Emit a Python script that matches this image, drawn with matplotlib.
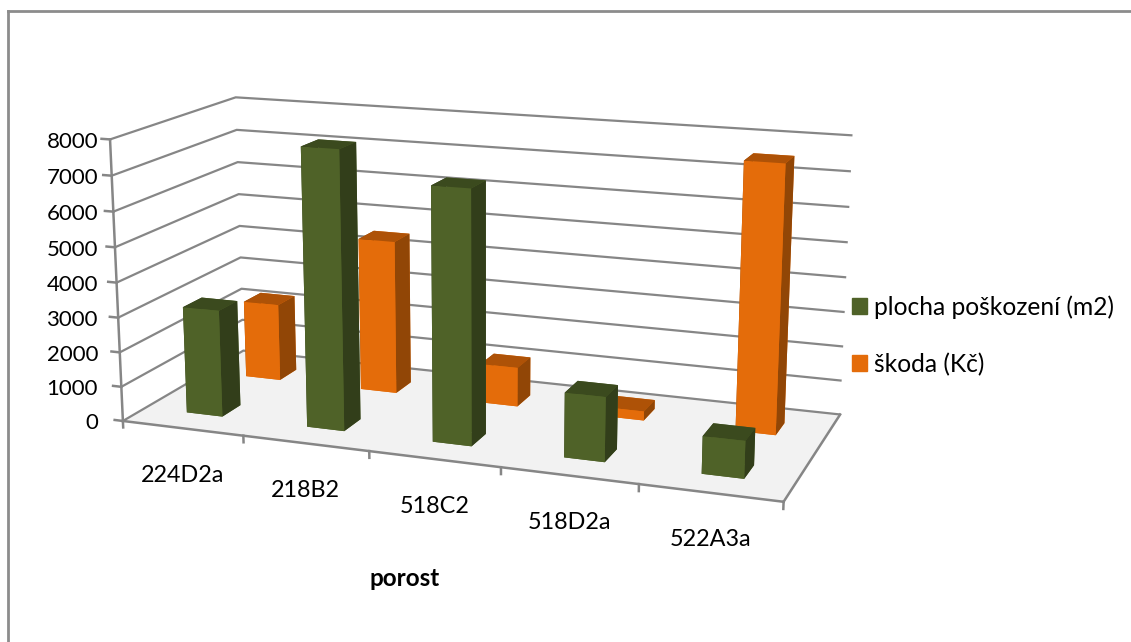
import matplotlib
matplotlib.use("Agg")
import matplotlib.pyplot as plt
from matplotlib.patches import Patch
from mpl_toolkits.mplot3d import proj3d

# stand data
stands = ["224D2a", "218B2", "518C2", "518D2a", "522A3a"]
area_m2 = [3090, 7900, 7100, 1800, 1030]
damage_czk = [2310, 4530, 1150, 265, 7580]
z_ticks = [0, 1000, 2000, 3000, 4000, 5000, 6000, 7000, 8000]
area_label = "plocha poškození (m2)"
damage_label = "škoda (Kč)"
x_label = "porost"

W, H = 1131, 642
GRAY = "#868686"
# bottom, top, front, back, left, right
GREEN_FACES = ["#4f6228", "#3b4a1e", "#4f6228", "#4f6228", "#323e1a", "#323e1a"]
ORANGE_FACES = ["#e46c0a", "#ae5207", "#e46c0a", "#e46c0a", "#914606", "#914606"]

plt.rcParams["font.family"] = ["Lato", "DejaVu Sans"]
plt.rcParams["font.size"] = 16
plt.rcParams["grid.color"] = GRAY
plt.rcParams["grid.linewidth"] = 1.6
plt.rcParams["axes.edgecolor"] = GRAY
plt.rcParams["axes.linewidth"] = 1.8

fig = plt.figure(figsize=(W / 100, H / 100), dpi=100)
ax = fig.add_subplot(projection="3d", computed_zorder=True)
ax.patch.set_alpha(0)
s = 762.17
ax.set_position([(472.8 - s / 2) / W, (H - 290.26 - s / 2) / H, s / W, s / H])
ax.view_init(elev=14.31, azim=-69.79, roll=0.03)
ax.set_proj_type("persp", focal_length=0.503)
ax.set_box_aspect((1, 0.3995, 0.4267))
ax.set_xlim(0, 5)
ax.set_ylim(0, 2)
ax.set_zlim(0, 8000)

ax.set_xticks(range(6))
ax.set_yticks([])
ax.set_zticks(z_ticks)
ax.set_xticklabels([])
ax.set_zticklabels([])
ax.xaxis.gridlines.set_visible(False)
ax.yaxis.gridlines.set_visible(False)
for axis in (ax.xaxis, ax.yaxis, ax.zaxis):
    axis.pane.set_edgecolor("none")
    axis._axinfo["tick"]["inward_factor"] = 0
    axis._axinfo["tick"]["outward_factor"] = 0
ax.xaxis.set_pane_color((1, 1, 1, 0))
ax.yaxis.set_pane_color((1, 1, 1, 0))
ax.zaxis.set_pane_color("#f2f2f2")
ax.zaxis.set_ticks_position("lower")

# depth slot 0 is the front row, slot 1 the back row
bar_w = 0.3
for i, (a, d) in enumerate(zip(area_m2, damage_czk)):
    ax.bar3d(i + 0.35, 0.35, 0, bar_w, bar_w, a, color=GREEN_FACES, shade=False, linewidth=0)
    ax.bar3d(i + 0.35, 1.35, 0, bar_w, bar_w, d, color=ORANGE_FACES, shade=False, linewidth=0)

# ticks
for i in range(6):
    ax.plot([i, i], [0, 0], [0, -190], color=GRAY, lw=1.8)
for v in z_ticks:
    ax.plot([0, -0.07], [0, 0], [v, v], color=GRAY, lw=1.8)

def screen(x, y, z):
    # data point -> display pixels of the 3d axes
    tx, ty, _ = proj3d.proj_transform(x, y, z, ax.get_proj())
    return ax.transData.transform((tx, ty))

for i, name in enumerate(stands):
    sx, sy = screen(i + 0.5, 0, 0)
    fig.text(sx / W, (sy - 47) / H, name, ha="center", va="center", fontsize=16.8)

for v in z_ticks:
    sx, sy = screen(0, 0, v)
    fig.text(98 / W, (sy - 2.5) / H, str(v), ha="right", va="center")

fig.text(405 / W, 1 - 579 / H, x_label, ha="center", va="center", fontweight="bold", fontsize=17.5)

handles = [Patch(color="#4f6228", label=area_label), Patch(color="#e46c0a", label=damage_label)]
fig.legend(handles=handles, loc="center left", bbox_to_anchor=(852 / W, 1 - 335.5 / H), frameon=False,
           fontsize=17.7, handlelength=0.61, handleheight=0.61, handletextpad=0.27, labelspacing=1.38,
           borderpad=0, borderaxespad=0)

# outer chart frame
x0, y0 = 7.5 / W, 1 - 11 / H
fig.add_artist(plt.Line2D([x0, x0], [y0, 0], color="#8c8c8c", lw=2))
fig.add_artist(plt.Line2D([x0, 1], [y0, y0], color="#8c8c8c", lw=2))

fig.savefig("out.png", dpi=100)
